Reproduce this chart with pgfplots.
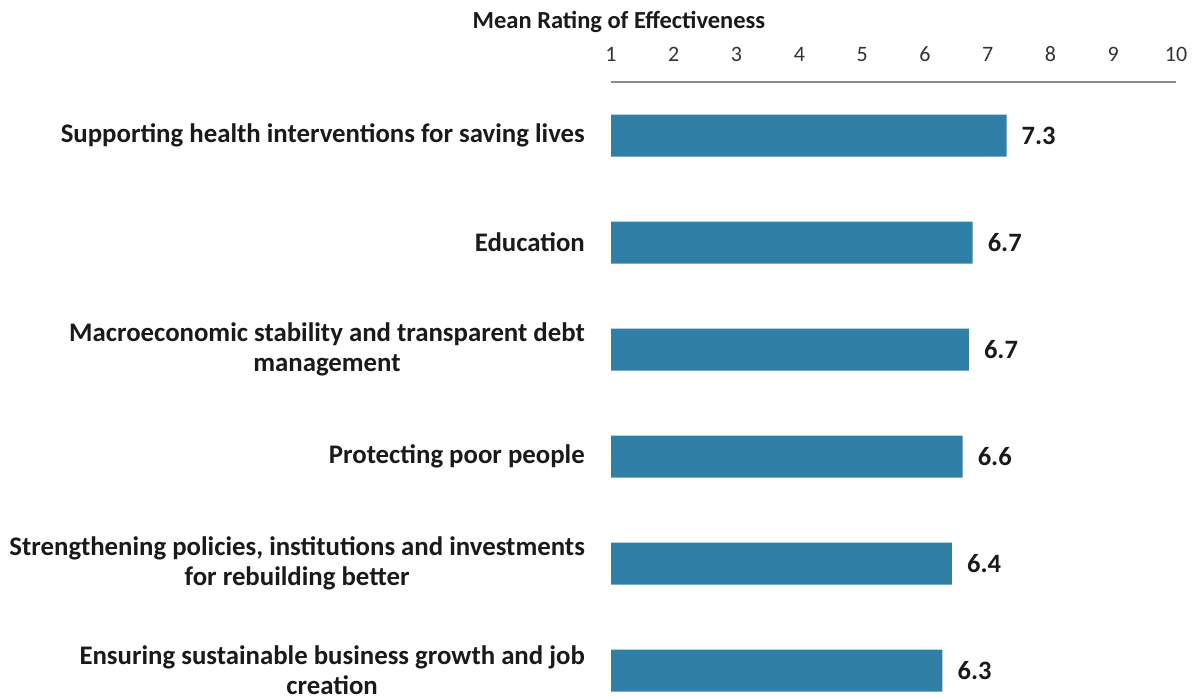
\documentclass[border=0pt]{standalone}
\usepackage{fontspec}
\setmainfont{Carlito}
\usepackage{pgfplots}
\pgfplotsset{compat=1.18}
\definecolor{barblue}{HTML}{2F7FA7}
\definecolor{axgray}{HTML}{8C8C8C}
\definecolor{txt}{HTML}{1A1A1A}
\begin{document}
\begin{tikzpicture}
\useasboundingbox (0,0) rectangle (1198pt,-698pt);
\node[anchor=base, font=\fontsize{24.5}{28}\selectfont\bfseries, text=txt, inner sep=0pt] at (619pt,-29pt) {Mean Rating of Effectiveness};
\begin{axis}[
  at={(611pt,-82pt)}, anchor=north west,
  scale only axis, width=565pt, height=616pt,
  xbar, bar width=42pt,
  xmin=1, xmax=10, ymin=0.5, ymax=6.257,
  y dir=reverse,
  clip=true,
  axis x line*=top, axis y line*=left,
  x axis line style={draw=axgray, line width=1.5pt, -},
  y axis line style={draw=none},
  xtick={1,...,10},
  ytick={1,...,6},
  yticklabels={{Supporting health interventions for saving lives},{Education},{Macroeconomic stability and transparent debt\\management},{Protecting poor people},{Strengthening policies, institutions and investments\\for rebuilding better},{Ensuring sustainable business growth and job\\creation}},
  major tick length=0pt,
  /pgf/number format/assume math mode=true,
  xticklabel style={font=\fontsize{22}{26}\selectfont, text=black!80, inner sep=0pt, anchor=base, yshift=21pt},
  yticklabel style={font=\fontsize{26.8}{30}\selectfont\bfseries, text=txt, align=center, inner sep=0pt, anchor=east, xshift=-26pt},
  nodes near coords,
  point meta=explicit symbolic,
  every node near coord/.append style={font=\fontsize{26.5}{30}\selectfont\bfseries, text=txt, anchor=west, inner sep=0pt, xshift=15pt},
]
\addplot[fill=barblue, draw=none] table[meta=lab] {
x y lab
7.30 1 7.3
6.76 2 6.7
6.70 3 6.7
6.60 4 6.6
6.43 5 6.4
6.28 6 6.3
};
\end{axis}
\end{tikzpicture}
\end{document}
